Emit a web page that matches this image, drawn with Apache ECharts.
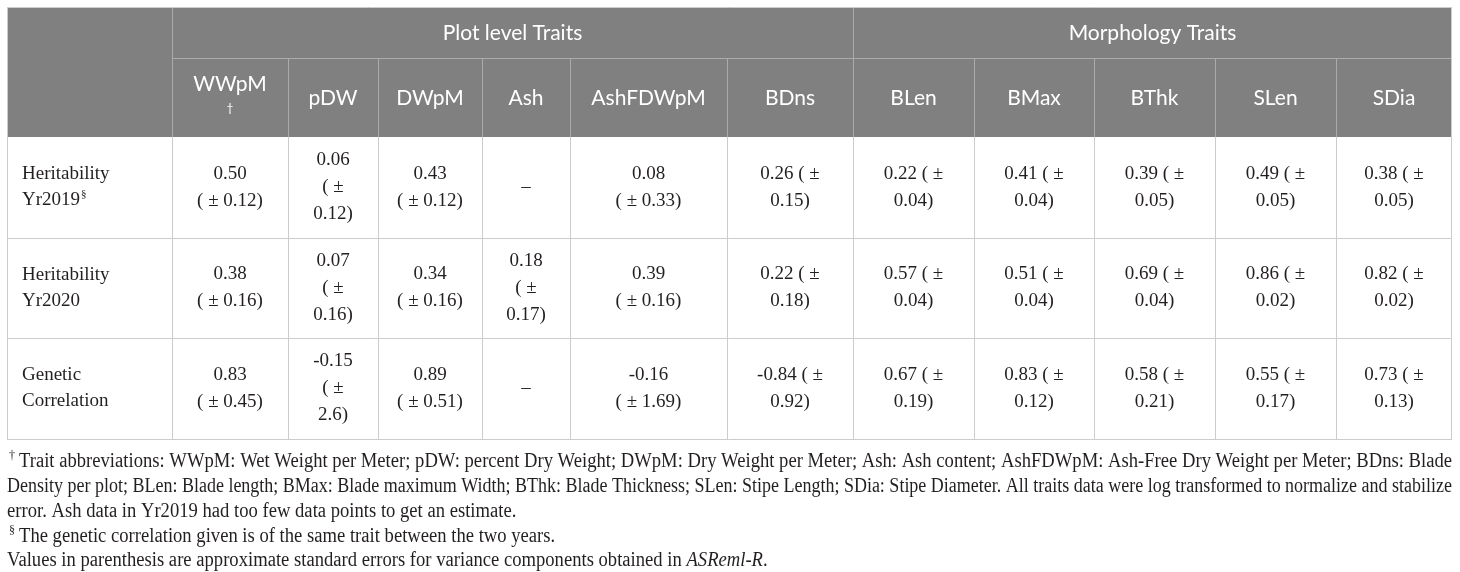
<!DOCTYPE html>
<html lang="en">
<head>
    <meta charset="UTF-8">
    <title>Heritability and genetic correlation table</title>
    <script src="https://cdn.jsdelivr.net/npm/echarts@6/dist/echarts.min.js"></script>
    <style>
        html, body { margin: 0; padding: 0; background: #fff; }
        #table { width: 1460px; height: 572px; }
    </style>
</head>
<body>
    <div id="table"></div>

    <script>
        // data
        const groups = ['Plot level Traits', 'Morphology Traits'];
        const groupSpan = [6, 5];
        const traits = ['WWpM', 'pDW', 'DWpM', 'Ash', 'AshFDWpM', 'BDns', 'BLen', 'BMax', 'BThk', 'SLen', 'SDia'];
        const rowLabels = [['Heritability', 'Yr2019'], ['Heritability', 'Yr2020'], ['Genetic', 'Correlation']];
        const h2019 = ['0.50', '0.06', '0.43', null, '0.08', '0.26', '0.22', '0.41', '0.39', '0.49', '0.38'];
        const se2019 = ['0.12', '0.12', '0.12', null, '0.33', '0.15', '0.04', '0.04', '0.05', '0.05', '0.05'];
        const h2020 = ['0.38', '0.07', '0.34', '0.18', '0.39', '0.22', '0.57', '0.51', '0.69', '0.86', '0.82'];
        const se2020 = ['0.16', '0.16', '0.16', '0.17', '0.16', '0.18', '0.04', '0.04', '0.04', '0.02', '0.02'];
        const genCorr = ['0.83', '-0.15', '0.89', null, '-0.16', '-0.84', '0.67', '0.83', '0.58', '0.55', '0.73'];
        const seGenCorr = ['0.45', '2.6', '0.51', null, '1.69', '0.92', '0.19', '0.12', '0.21', '0.17', '0.13'];
        const footnotes = [
            'Trait abbreviations: WWpM: Wet Weight per Meter; pDW: percent Dry Weight; DWpM: Dry Weight per Meter; Ash: Ash content; AshFDWpM: Ash-Free Dry Weight per Meter; BDns: Blade',
            'Density per plot; BLen: Blade length; BMax: Blade maximum Width; BThk: Blade Thickness; SLen: Stipe Length; SDia: Stipe Diameter. All traits data were log transformed to normalize and stabilize',
            'error. Ash data in Yr2019 had too few data points to get an estimate.',
            'The genetic correlation given is of the same trait between the two years.',
            'Values in parenthesis are approximate standard errors for variance components obtained in '
        ];

        // layout
        const colX = [7, 172, 288, 378, 482, 570, 727, 853, 974, 1094, 1215, 1336, 1452];
        const rowY = [7, 58, 137, 238, 338, 439];
        const wrapStyle = ['a', 'b', 'a', 'b', 'a', 'c', 'c', 'c', 'c', 'c', 'c'];
        const SERIF = '"Liberation Serif", "DejaVu Serif", serif';
        const SANS = 'Lato, "Open Sans", sans-serif';
        const headFill = '#808080';
        const lineBody = '#cccccc';
        const lineHead = '#ababab';
        const textColor = '#231f20';

        const ctx = document.createElement('canvas').getContext('2d');
        function textWidth(font, s) {
            ctx.font = font;
            return ctx.measureText(s).width;
        }

        function cellText(v, se, style) {
            if (v === null) return '–';
            if (style === 'a') return v + '\n( ± ' + se + ')';
            if (style === 'b') return v + '\n( ±\n' + se + ')';
            return v + ' ( ±\n' + se + ')';
        }

        function line(x1, y1, x2, y2, color) {
            return {
                type: 'line', silent: true,
                shape: { x1: x1, y1: y1, x2: x2, y2: y2 },
                style: { stroke: color, lineWidth: 1 }
            };
        }

        function text(x, y, s, opts) {
            return {
                type: 'text', silent: true, x: x, y: y,
                scaleX: opts.scaleX || 1,
                style: {
                    text: s,
                    font: opts.font,
                    fill: opts.fill || textColor,
                    align: opts.align || 'center',
                    textAlign: opts.align || 'center',
                    verticalAlign: 'middle',
                    textVerticalAlign: 'middle',
                    lineHeight: opts.lineHeight || 26
                }
            };
        }

        const els = [];
        const left = colX[0], right = colX[colX.length - 1];

        // header background
        els.push({
            type: 'rect', silent: true,
            shape: { x: left, y: rowY[0], width: right - left, height: rowY[2] - rowY[0] },
            style: { fill: headFill }
        });

        // header lines
        els.push(line(colX[1], rowY[1] + 0.5, right, rowY[1] + 0.5, lineHead));
        els.push(line(colX[1] + 0.5, rowY[0], colX[1] + 0.5, rowY[2], lineHead));
        let gStart = 1;
        groupSpan.forEach(function (n, g) {
            const x0 = colX[gStart], x1 = colX[gStart + n];
            els.push(text((x0 + x1) / 2, (rowY[0] + rowY[1]) / 2 + 1, groups[g], { font: '21px ' + SANS, fill: '#fff' }));
            if (g > 0) els.push(line(x0 + 0.5, rowY[0], x0 + 0.5, rowY[2], lineHead));
            gStart += n;
        });
        traits.forEach(function (t, i) {
            const c = i + 1;
            const cx = (colX[c] + colX[c + 1]) / 2;
            if (c > 1) els.push(line(colX[c] + 0.5, rowY[1], colX[c] + 0.5, rowY[2], lineHead));
            if (i === 0) {
                els.push(text(cx, 84, t, { font: '21px ' + SANS, fill: '#fff' }));
                els.push(text(cx, 108, '†', { font: '12px ' + SANS, fill: '#fff' }));
            } else {
                els.push(text(cx, (rowY[1] + rowY[2]) / 2 + 1, t, { font: '21px ' + SANS, fill: '#fff' }));
            }
        });

        // body
        const rowVals = [[h2019, se2019], [h2020, se2020], [genCorr, seGenCorr]];
        const bodyFont = '19px ' + SERIF;
        rowVals.forEach(function (rv, r) {
            const y0 = rowY[r + 2], y1 = rowY[r + 3];
            const cy = (y0 + y1) / 2;
            els.push(line(left, y1 + 0.5, right, y1 + 0.5, lineBody));
            els.push(text(22, cy - 13, rowLabels[r][0], { font: bodyFont, align: 'left' }));
            els.push(text(22, cy + 13, rowLabels[r][1], { font: bodyFont, align: 'left' }));
            if (r === 0) {
                const w = textWidth(bodyFont, rowLabels[r][1]);
                els.push(text(22 + w + 1, cy + 7, '§', { font: '11px ' + SERIF, align: 'left' }));
            }
            traits.forEach(function (t, i) {
                const c = i + 1;
                const cx = (colX[c] + colX[c + 1]) / 2;
                els.push(text(cx, cy, cellText(rv[0][i], rv[1][i], wrapStyle[i]), { font: bodyFont, lineHeight: 27 }));
            });
        });
        for (let c = 1; c < colX.length - 1; c++) {
            els.push(line(colX[c] + 0.5, rowY[2], colX[c] + 0.5, rowY[5], lineBody));
        }
        // outer border
        els.push(line(left + 0.5, rowY[0], left + 0.5, rowY[5], lineBody));
        els.push(line(right - 0.5, rowY[0], right - 0.5, rowY[5], lineBody));
        els.push(line(left, rowY[0] + 0.5, right, rowY[0] + 0.5, lineBody));

        // footnotes, set in a condensed serif: squeeze to the measured line length
        const noteFont = '20px ' + SERIF;
        const noteX = 19;
        const squeeze = (right - noteX) / textWidth(noteFont, footnotes[0]);
        const noteY = [462, 487, 512, 537, 561];
        footnotes.forEach(function (s, i) {
            const x = (i === 0 || i === 3) ? noteX : left;
            const sx = i === 1 ? (right - left) / textWidth(noteFont, s) : squeeze;
            els.push(text(x, noteY[i], s, { font: noteFont, align: 'left', scaleX: sx }));
            if (i === 4) {
                const w = textWidth(noteFont, s) * sx;
                els.push(text(x + w, noteY[i], 'ASReml-R', { font: 'italic ' + noteFont, align: 'left', scaleX: sx }));
                const w2 = textWidth('italic ' + noteFont, 'ASReml-R') * sx;
                els.push(text(x + w + w2, noteY[i], '.', { font: noteFont, align: 'left', scaleX: sx }));
            }
        });
        els.push(text(9, noteY[0] - 6, '†', { font: '12px ' + SERIF, align: 'left' }));
        els.push(text(9, noteY[3] - 6, '§', { font: '12px ' + SERIF, align: 'left' }));

        const chart = echarts.init(document.getElementById('table'));
        chart.setOption({
            animation: false,
            graphic: { elements: els }
        });
    </script>
</body>
</html>
